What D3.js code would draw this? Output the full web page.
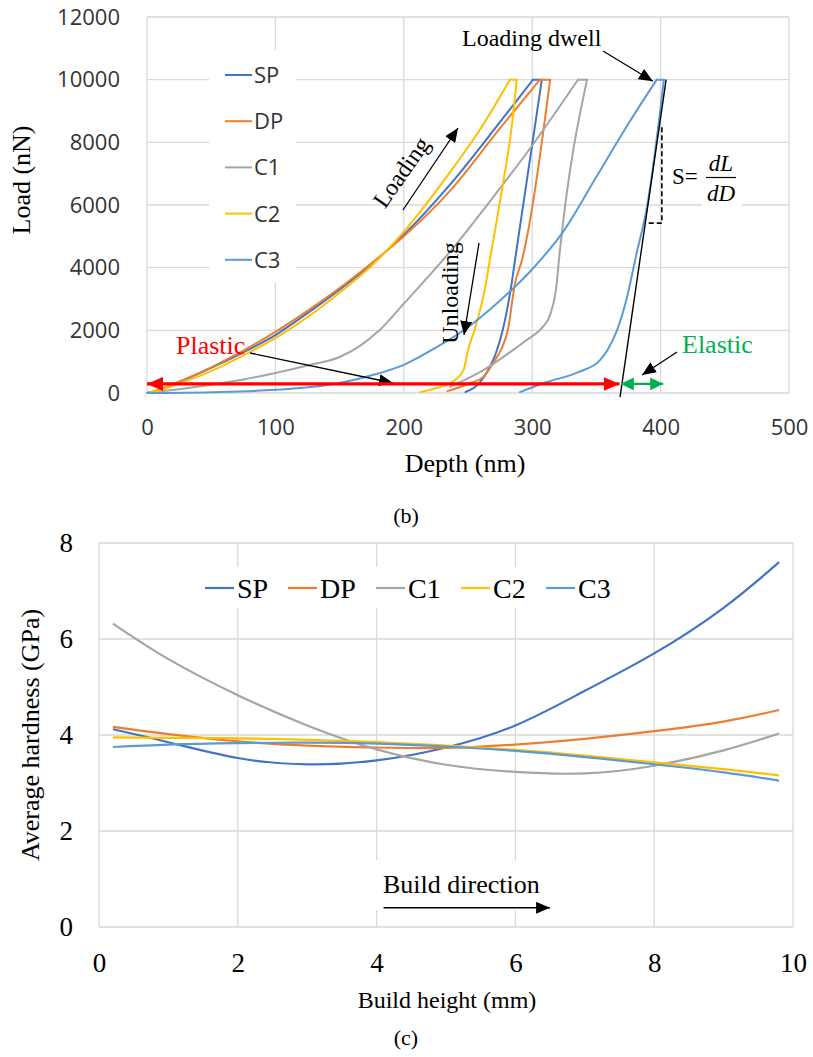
<!DOCTYPE html>
<html><head><meta charset="utf-8">
<script src="https://cdn.jsdelivr.net/npm/d3@7"></script>
<style>body{margin:0;background:#fff}</style>
</head><body><svg id="c" width="813" height="1057"></svg>
<script>
// ---------- data ----------
const seriesNames = ["SP","DP","C1","C2","C3"];
const seriesColors = ["#4472C4","#ED7D31","#A5A5A5","#FFC000","#5B9BD5"];

// (b) load-depth curves
const depthTicks = [0,100,200,300,400,500];
const loadTicks = [0,2000,4000,6000,8000,10000,12000];
const spDepth = [0,10,20,35,50,75,100,125,150,176,200,236,275,300.6,307.5,286.6,284,277,272,267,259,248];
const spLoad  = [0,100,260,520,800,1300,1850,2550,3300,4150,5050,6650,8650,10000,10000,4240,3500,2000,1300,830,320,30];
const dpDepth = [0,10,20,35,50,75,100,125,150,176,200,236,275,306,314,292,286.6,281,276,271,262,252,234];
const dpLoad  = [0,110,280,540,820,1350,1950,2620,3350,4180,5000,6450,8450,10000,10000,4240,3500,2000,1400,1050,510,320,60];
const c1Depth = [0,25,50,75,100,125,150,165,181,200,237,272,300,335.7,342.7,321.6,318.5,314,308,296,285,262,244,236];
const c1Load  = [0,120,260,430,640,880,1150,1480,2000,2850,4560,6380,7900,10000,10000,4560,3300,2500,2100,1700,1370,730,350,200];
const c2Depth = [0,10,20,35,50,75,100,125,150,176,200,236,260,282.7,288,284,276,267,264,255,250,246.5,237.5,220,213];
const c2Load  = [0,80,230,450,700,1200,1750,2420,3200,4100,5150,7050,8450,10000,10000,8490,6380,4240,3500,2000,1370,730,350,100,30];
const c3Depth = [0,50,100,150,180,200,225,250,275,300,325,350,375,397,402.6,389.4,381,373.5,366,359,352.8,337,311.5,290.5];
const c3Load  = [0,25,100,320,620,900,1450,2100,2950,3950,5200,6900,8600,10000,10000,5930,4400,3000,2000,1400,1050,680,350,30];
const tangentDepth = [404.3,368.4];
const tangentLoad = [10000,-130];

// (c) hardness vs build height
const heightTicks = [0,2,4,6,8,10];
const hardnessTicks = [0,2,4,6,8];
const buildHeight = [0.2,1,2,3,4,5,6,7,8,9,9.8];
const spHard = [4.12,3.85,3.52,3.39,3.47,3.74,4.2,4.92,5.7,6.65,7.6];
const dpHard = [4.17,4.02,3.87,3.78,3.74,3.73,3.8,3.92,4.08,4.28,4.52];
const c1Hard = [6.32,5.58,4.83,4.2,3.7,3.38,3.23,3.2,3.36,3.68,4.03];
const c2Hard = [3.95,3.94,3.93,3.9,3.85,3.78,3.69,3.57,3.43,3.29,3.16];
const c3Hard = [3.75,3.8,3.83,3.84,3.82,3.76,3.67,3.54,3.39,3.22,3.05];

// ---------- drawing ----------
const svg = d3.select("#c");
svg.append("rect").attr("width",813).attr("height",1057).attr("fill","#fff");
const defs = svg.append("defs");
function marker(id, color, len, wid){
  defs.append("marker").attr("id",id).attr("markerUnits","userSpaceOnUse")
    .attr("markerWidth",len).attr("markerHeight",wid).attr("refX",len).attr("refY",wid/2)
    .attr("orient","auto-start-reverse")
    .append("path").attr("d",`M0,0L${len},${wid/2}L0,${wid}Z`).attr("fill",color);
}
marker("ab","#000",14,12);
marker("ar","#ff0000",16,14);
marker("ag","#00b050",13,13);

const serif = "'Liberation Serif','Times New Roman',serif";
const sans = "'Open Sans','Liberation Sans',sans-serif";
const grid = "#d9d9d9";

// ===== chart (b) =====
const x = d3.scaleLinear([0,500],[147,789]);
const y = d3.scaleLinear([0,12000],[393,17]);
const gb = svg.append("g");
gb.selectAll(".vg").data(depthTicks).join("line")
  .attr("x1",d=>x(d)).attr("x2",d=>x(d)).attr("y1",y(0)).attr("y2",y(12000))
  .attr("stroke",grid).attr("stroke-width",1.3);
gb.selectAll(".hg").data(loadTicks).join("line")
  .attr("x1",x(0)).attr("x2",x(500)).attr("y1",d=>y(d)).attr("y2",d=>y(d))
  .attr("stroke",grid).attr("stroke-width",1.3);

// legend background
gb.append("rect").attr("x",209).attr("y",50).attr("width",87).attr("height",233).attr("fill","#fff");
// fraction background
gb.append("rect").attr("x",702).attr("y",190).attr("width",40).attr("height",22).attr("fill","#fff");

const depthSets = [spDepth,dpDepth,c1Depth,c2Depth,c3Depth];
const loadSets = [spLoad,dpLoad,c1Load,c2Load,c3Load];
const mono = d3.line().x(d=>x(d[0])).y(d=>y(d[1])).curve(d3.curveMonotoneX);
const lin = d3.line().x(d=>x(d[0])).y(d=>y(d[1]));
depthSets.forEach((ds,i)=>{
  const pts = ds.map((d,j)=>[d,loadSets[i][j]]);
  const top = loadSets[i].indexOf(d3.max(loadSets[i]));
  const loading = pts.slice(0,top+1);
  const dwell = pts.slice(top,top+2);
  const unloading = pts.slice(top+1).reverse();
  [[loading,mono],[dwell,lin],[unloading,mono]].forEach(([s,gen])=>{
    gb.append("path").attr("d",gen(s)).attr("fill","none")
      .attr("stroke",seriesColors[i]).attr("stroke-width",2).attr("stroke-linejoin","round").attr("stroke-linecap","round");
  });
});
// tangent line
gb.append("line").attr("x1",x(tangentDepth[0])).attr("y1",y(tangentLoad[0]))
  .attr("x2",x(tangentDepth[1])).attr("y2",y(tangentLoad[1])).attr("stroke","#000").attr("stroke-width",1.4);
// dashed stiffness triangle
gb.append("path").attr("d",`M${x(401)},${y(8480)}V${y(5420)}H${x(388)}`)
  .attr("fill","none").attr("stroke","#000").attr("stroke-width",1.6).attr("stroke-dasharray","5,3");

// legend
seriesNames.forEach((n,i)=>{
  const ly = 75 + i*46.2;
  gb.append("line").attr("x1",225).attr("x2",252).attr("y1",ly).attr("y2",ly)
    .attr("stroke",seriesColors[i]).attr("stroke-width",2);
  gb.append("text").attr("x",254).attr("y",ly).attr("dy","0.36em").text(n)
    .attr("font-family",sans).attr("font-size",22).attr("fill","#333");
});

// axes labels
const fmt = d3.format("d");
const axL = gb.append("g").attr("transform",`translate(${x(0)},0)`)
  .call(d3.axisLeft(y).tickValues(loadTicks).tickFormat(fmt).tickSize(0).tickPadding(27));
const axB = gb.append("g").attr("transform",`translate(0,${y(0)})`)
  .call(d3.axisBottom(x).tickValues(depthTicks).tickFormat(fmt).tickSize(0).tickPadding(26));
[axL,axB].forEach(a=>{a.select(".domain").remove();
  a.selectAll("text").attr("font-family",sans).attr("font-size",22).attr("fill","#333");});
gb.append("text").attr("transform","translate(30,180) rotate(-90)").attr("text-anchor","middle")
  .attr("font-family",serif).attr("font-size",26).text("Load (nN)");
gb.append("text").attr("x",465).attr("y",472).attr("text-anchor","middle")
  .attr("font-family",serif).attr("font-size",26).text("Depth (nm)");
gb.append("text").attr("x",406).attr("y",523).attr("text-anchor","middle")
  .attr("font-family",serif).attr("font-size",22).text("(b)");

// annotations
gb.append("text").attr("x",462).attr("y",46).attr("font-family",serif).attr("font-size",24).text("Loading dwell");
gb.append("line").attr("x1",603).attr("y1",51).attr("x2",x(394)).attr("y2",y(9950))
  .attr("stroke","#000").attr("stroke-width",1.3).attr("marker-end","url(#ab)");
gb.append("text").attr("transform","translate(401,172) rotate(-55)").attr("text-anchor","middle")
  .attr("dy","0.35em").attr("font-family",serif).attr("font-size",24).text("Loading");
gb.append("line").attr("x1",403).attr("y1",210).attr("x2",458).attr("y2",128)
  .attr("stroke","#000").attr("stroke-width",1.3).attr("marker-end","url(#ab)");
gb.append("text").attr("transform","translate(450,293) rotate(-90)").attr("text-anchor","middle")
  .attr("dy","0.35em").attr("font-family",serif).attr("font-size",24).text("Unloading");
gb.append("line").attr("x1",479).attr("y1",243).attr("x2",464).attr("y2",335)
  .attr("stroke","#000").attr("stroke-width",1.3).attr("marker-end","url(#ab)");

gb.append("text").attr("x",176).attr("y",354).attr("font-family",serif).attr("font-size",26)
  .attr("fill","#ff0000").text("Plastic");
gb.append("line").attr("x1",250).attr("y1",353).attr("x2",393).attr("y2",383)
  .attr("stroke","#000").attr("stroke-width",1.3).attr("marker-end","url(#ab)");
gb.append("line").attr("x1",x(0)).attr("x2",x(368)).attr("y1",y(290)).attr("y2",y(290))
  .attr("stroke","#ff0000").attr("stroke-width",3.2)
  .attr("marker-start","url(#ar)").attr("marker-end","url(#ar)");
gb.append("line").attr("x1",x(369)).attr("x2",x(402)).attr("y1",y(290)).attr("y2",y(290))
  .attr("stroke","#00b050").attr("stroke-width",2.2)
  .attr("marker-start","url(#ag)").attr("marker-end","url(#ag)");
gb.append("text").attr("x",682).attr("y",353).attr("font-family",serif).attr("font-size",26)
  .attr("fill","#00b050").text("Elastic");
gb.append("line").attr("x1",677).attr("y1",352).attr("x2",642).attr("y2",375)
  .attr("stroke","#000").attr("stroke-width",1.3).attr("marker-end","url(#ab)");

// S = dL/dD
gb.append("text").attr("x",672).attr("y",184).attr("font-family",serif).attr("font-size",23).text("S=");
gb.append("text").attr("x",721).attr("y",171).attr("text-anchor","middle").attr("font-family",serif)
  .attr("font-style","italic").attr("font-size",23).text("dL");
gb.append("line").attr("x1",706).attr("x2",736).attr("y1",177.5).attr("y2",177.5).attr("stroke","#000").attr("stroke-width",1.2);
gb.append("text").attr("x",721).attr("y",201).attr("text-anchor","middle").attr("font-family",serif)
  .attr("font-style","italic").attr("font-size",23).text("dD");

// ===== chart (c) =====
const x2 = d3.scaleLinear([0,10],[99,793]);
const y2 = d3.scaleLinear([0,8],[927,543]);
const gc = svg.append("g");
gc.selectAll(".vg").data(heightTicks).join("line")
  .attr("x1",d=>x2(d)).attr("x2",d=>x2(d)).attr("y1",y2(0)).attr("y2",y2(8))
  .attr("stroke",grid).attr("stroke-width",1.3);
gc.selectAll(".hg").data(hardnessTicks).join("line")
  .attr("x1",x2(0)).attr("x2",x2(10)).attr("y1",d=>y2(d)).attr("y2",d=>y2(d))
  .attr("stroke",grid).attr("stroke-width",1.3);
gc.append("rect").attr("x",195).attr("y",567).attr("width",450).attr("height",41).attr("fill","#fff");
gc.append("rect").attr("x",372).attr("y",860).attr("width",176).attr("height",50).attr("fill","#fff");

const hardSets = [spHard,dpHard,c1Hard,c2Hard,c3Hard];
const nat = d3.line().x(d=>x2(d[0])).y(d=>y2(d[1])).curve(d3.curveNatural);
hardSets.forEach((hs,i)=>{
  gc.append("path").attr("d",nat(buildHeight.map((b,j)=>[b,hs[j]]))).attr("fill","none")
    .attr("stroke",seriesColors[i]).attr("stroke-width",2.2);
});
// legend
const legX = [205,288,376,461,546];
seriesNames.forEach((n,i)=>{
  gc.append("line").attr("x1",legX[i]).attr("x2",legX[i]+29).attr("y1",588).attr("y2",588)
    .attr("stroke",seriesColors[i]).attr("stroke-width",2.2);
  gc.append("text").attr("x",legX[i]+32).attr("y",588).attr("dy","0.35em").text(n)
    .attr("font-family",serif).attr("font-size",28);
});
const axL2 = gc.append("g").attr("transform",`translate(${x2(0)},0)`)
  .call(d3.axisLeft(y2).tickValues(hardnessTicks).tickSize(0).tickPadding(26));
const axB2 = gc.append("g").attr("transform",`translate(0,${y2(0)})`)
  .call(d3.axisBottom(x2).tickValues(heightTicks).tickSize(0).tickPadding(26));
[axL2,axB2].forEach(a=>{a.select(".domain").remove();
  a.selectAll("text").attr("font-family",serif).attr("font-size",27).attr("fill","#000");});
gc.append("text").attr("transform","translate(39,735) rotate(-90)").attr("text-anchor","middle")
  .attr("font-family",serif).attr("font-size",26).text("Average hardness (GPa)");
gc.append("text").attr("x",447).attr("y",1008).attr("text-anchor","middle")
  .attr("font-family",serif).attr("font-size",24).text("Build height (mm)");
gc.append("text").attr("x",406).attr("y",1045).attr("text-anchor","middle")
  .attr("font-family",serif).attr("font-size",22).text("(c)");
gc.append("text").attr("x",383).attr("y",893).attr("font-family",serif).attr("font-size",26).text("Build direction");
gc.append("line").attr("x1",x2(4.1)).attr("x2",x2(6.5)).attr("y1",y2(0.4)).attr("y2",y2(0.4))
  .attr("stroke","#000").attr("stroke-width",1.6).attr("marker-end","url(#ab)");
</script></body></html>
